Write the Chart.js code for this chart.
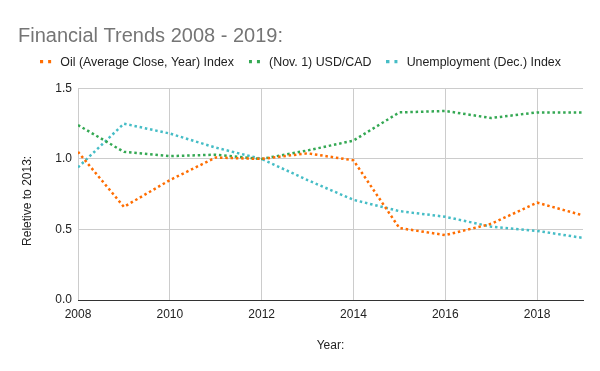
<!DOCTYPE html>
<html>
<head>
<meta charset="utf-8">
<script src="https://cdn.jsdelivr.net/npm/chart.js@4"></script>
<style>
  html, body { margin: 0; padding: 0; background: #fff; }
  #wrap { width: 600px; height: 371px; }
</style>
</head>
<body>
<div id="wrap"><canvas id="trendChart" width="600" height="371"></canvas></div>
<script>
// Dữ liệu
const years = [2008, 2009, 2010, 2011, 2012, 2013, 2014, 2015, 2016, 2017, 2018, 2019];
const oilIndex = [1.05, 0.66, 0.85, 1.01, 1.00, 1.04, 0.99, 0.51, 0.46, 0.54, 0.69, 0.60];
const usdCad = [1.24, 1.05, 1.02, 1.03, 1.00, 1.06, 1.13, 1.33, 1.34, 1.29, 1.33, 1.33];
const unemploymentIndex = [0.94, 1.25, 1.18, 1.08, 1.00, 0.85, 0.71, 0.63, 0.59, 0.52, 0.49, 0.44];
const seriesNames = ["Oil (Average Close, Year) Index", "(Nov. 1) USD/CAD", "Unemployment (Dec.) Index"];
const seriesColors = ["#ff6d01", "#34a853", "#46bdc6"];
const yTicks = [0, 0.5, 1.0, 1.5];

const FONT = "Arial, 'Liberation Sans', sans-serif";

// Ký hiệu chú thích: hai ô vuông nhỏ
function legendMarker(color) {
    const c = document.createElement("canvas");
    c.width = 14;
    c.height = 4;
    const g = c.getContext("2d");
    g.fillStyle = color;
    g.fillRect(0, 0, 3, 3);
    g.fillRect(8, 0, 3, 3);
    return c;
}

function toPoints(values) {
    return values.map((v, i) => ({ x: years[i], y: v }));
}

const allSeries = [oilIndex, usdCad, unemploymentIndex];

const datasets = allSeries.map((values, i) => ({
    label: seriesNames[i],
    data: toPoints(values),
    borderColor: seriesColors[i],
    backgroundColor: seriesColors[i],
    pointStyle: legendMarker(seriesColors[i]),
    borderWidth: 2.5,
    borderDash: [2.5, 2.8],
    pointRadius: 0,
    pointHoverRadius: 0,
    tension: 0,
    fill: false
}));

new Chart(document.getElementById("trendChart").getContext("2d"), {
    type: "line",
    data: { datasets },
    options: {
        responsive: false,
        animation: false,
        layout: { padding: { left: 18, right: 17, top: 0, bottom: 0 } },
        plugins: {
            title: {
                display: true,
                text: "Financial Trends 2008 - 2019:",
                align: "start",
                color: "#757575",
                font: { family: FONT, size: 20, weight: "normal" },
                padding: { top: 24, bottom: -7 }
            },
            legend: {
                display: true,
                position: "top",
                labels: {
                    usePointStyle: true,
                    pointStyleWidth: 14,
                    color: "#222",
                    font: { family: FONT, size: 12.4 },
                    padding: 15
                }
            },
            tooltip: { enabled: false }
        },
        scales: {
            x: {
                type: "linear",
                min: 2008,
                max: 2019,
                afterFit: (scale) => { scale.height = 71; },
                ticks: {
                    stepSize: 2,
                    includeBounds: false,
                    color: "#222",
                    font: { family: FONT, size: 12 },
                    padding: 7,
                    maxRotation: 0,
                    callback: (v) => String(v)
                },
                grid: { color: "#cccccc", drawTicks: false },
                border: { color: "#333333", width: 1 },
                title: {
                    display: true,
                    text: "Year:",
                    color: "#222",
                    font: { family: FONT, size: 12 },
                    padding: { top: 0, bottom: 18 }
                }
            },
            // trục phụ phía trên chỉ để tạo khoảng trống dưới chú thích
            xSpacer: {
                type: "linear",
                position: "top",
                display: true,
                afterFit: (scale) => { scale.height = 10; },
                ticks: { display: false },
                grid: { display: false },
                border: { display: false }
            },
            y: {
                min: 0,
                max: 1.5,
                afterFit: (scale) => { scale.width = 60; },
                afterBuildTicks: (scale) => { scale.ticks = yTicks.map(v => ({ value: v })); },
                ticks: {
                    color: "#222",
                    font: { family: FONT, size: 12 },
                    padding: 6,
                    callback: (v) => Number(v).toFixed(1)
                },
                grid: { color: "#cccccc", drawTicks: false },
                border: { display: false },
                title: {
                    display: true,
                    text: "Reletive to 2013:    ",
                    color: "#222",
                    font: { family: FONT, size: 12 },
                    padding: { top: 2, bottom: 0 }
                }
            }
        }
    }
});
</script>
</body>
</html>
